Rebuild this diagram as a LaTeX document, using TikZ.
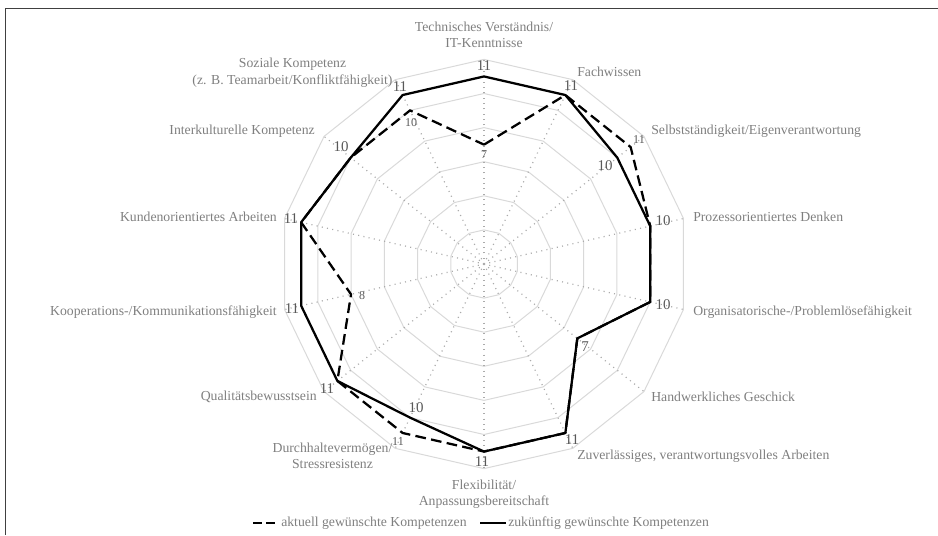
\documentclass[tikz,border=0pt]{standalone}
\usepackage{fontspec}
\setmainfont{Liberation Serif}
\definecolor{cattext}{HTML}{7F7F7F}
\definecolor{valtext}{HTML}{595959}
\definecolor{gridcol}{HTML}{D9D9D9}
\definecolor{spokecol}{HTML}{ABABAB}
\definecolor{framecol}{HTML}{404040}
\def\runit{17.05}
\tikzset{
  cat/.style={text=cattext, inner sep=0pt, font=\fontsize{10.3}{12.4}\selectfont},
  valbig/.style={text=valtext, inner sep=0pt, font=\fontsize{11.2}{12}\selectfont},
  valsmall/.style={text=valtext, inner sep=0pt, font=\fontsize{9}{10}\selectfont},
  gridline/.style={draw=gridcol, line width=0.75pt},
  spokeline/.style={draw=spokecol, line width=0.9pt, dash pattern=on 0.8pt off 3.2pt},
  nowline/.style={draw=black, line width=1.7pt, line join=round, dash pattern=on 8pt off 4pt},
  futureline/.style={draw=black, line width=1.7pt, line join=round},
}
\begin{document}
\begin{tikzpicture}[x=0.75pt,y=0.75pt]
\useasboundingbox (0,-535) rectangle (938,0);
% frame
\coordinate (fbl) at (5.3,-535);
\coordinate (ftl) at (5.3,-8.3);
\coordinate (ftr) at (938,-8.3);
\draw[framecol, line width=1.1pt] (fbl) -- (ftl) -- (ftr);

\begin{scope}[shift={(484,-264)}]
  \coordinate (ctr) at (0,0);
  % grid rings
  \foreach \r in {2,4,...,12}{
    \draw[gridline] (90:\r*\runit) \foreach \k in {1,...,13}{ -- ({90-\k*360/14}:\r*\runit)} -- cycle;
  }
  % spokes
  \foreach \k in {0,...,13}{
    \coordinate (sp\k) at ({90-\k*360/14}:12*\runit);
    \draw[spokeline] (ctr) -- (sp\k);
  }
  % data points
  \foreach \v [count=\k from 0] in {7,11,11,10,10,7,11,11,11,11,8,11,10,10}{
    \coordinate (a\k) at ({90-\k*360/14}:\v*\runit);
  }
  \foreach \v [count=\k from 0] in {11,11,10,10,10,7,11,11,10,11,11,11,10,11}{
    \coordinate (z\k) at ({90-\k*360/14}:\v*\runit);
  }
  \draw[nowline] (a0) \foreach \k in {1,...,13}{ -- (a\k)} -- cycle;
  \draw[futureline] (z0) \foreach \k in {1,...,13}{ -- (z\k)} -- cycle;
\end{scope}

% category labels
\node[cat, align=center] (c0) at (484,-35) {Technisches Verständnis/\\IT-Kenntnisse};
\node[cat, anchor=west] (c1) at (577,-72) {Fachwissen};
\node[cat, anchor=west] (c2) at (651,-131) {Selbstständigkeit/Eigenverantwortung};
\node[cat, anchor=west] (c3) at (693,-217) {Prozessorientiertes Denken};
\node[cat, anchor=west] (c4) at (693,-312) {Organisatorische-/Problemlösefähigkeit};
\node[cat, anchor=west] (c5) at (651,-397) {Handwerkliches Geschick};
\node[cat, anchor=west] (c6) at (577,-456) {Zuverlässiges, verantwortungsvolles Arbeiten};
\node[cat, align=center] (c7) at (484,-494) {Flexibilität/\\Anpassungsbereitschaft};
\node[cat, align=center] (c8) at (332.5,-456) {Durchhaltevermögen/\\Stressresistenz};
\node[cat, anchor=east] (c9) at (317,-397) {Qualitätsbewusstsein};
\node[cat, anchor=east] (c10) at (277,-312) {Kooperations-/Kommunikationsfähigkeit};
\node[cat, anchor=east] (c11) at (277,-217) {Kundenorientiertes Arbeiten};
\node[cat, anchor=east] (c12) at (315,-131) {Interkulturelle Kompetenz};
\node[cat, align=center] (c13) at (292.5,-72.5) {Soziale Kompetenz\\(z. B. Teamarbeit/Konfliktfähigkeit)};

% value labels (zukünftig)
\node[valbig] (v0) at (484,-66) {11};
\node[valbig] (v1) at (571,-86) {11};
\node[valbig] (v2) at (605,-166) {10};
\node[valbig] (v3) at (663,-221) {10};
\node[valbig] (v4) at (663,-305) {10};
\node[valbig] (v5) at (585,-347) {7};
\node[valbig] (v6) at (572,-440) {11};
\node[valbig] (v7) at (482,-462) {11};
\node[valbig] (v8) at (416,-408) {10};
\node[valbig] (v9) at (327,-389) {11};
\node[valbig] (v10) at (292,-309) {11};
\node[valbig] (v11) at (291,-219) {11};
\node[valbig] (v12) at (341,-147) {10};
\node[valbig] (v13) at (400,-87) {11};
% value labels (aktuell)
\node[valsmall] (w0) at (484,-155) {7};
\node[valsmall] (w2) at (639,-140) {11};
\node[valsmall] (w8) at (398,-442) {11};
\node[valsmall] (w10) at (362,-296) {8};
\node[valsmall] (w13) at (411,-123) {10};

% legend
\coordinate (la1) at (253,-523);
\coordinate (la2) at (279,-523);
\coordinate (lb1) at (480,-523);
\coordinate (lb2) at (506,-523);
\draw[draw=black, line width=1.7pt, dash pattern=on 6.8pt off 3pt] (la1) -- (la2);
\node[cat, anchor=west] (lt1) at (281,-523) {aktuell gewünschte Kompetenzen};
\draw[futureline] (lb1) -- (lb2);
\node[cat, anchor=west] (lt2) at (508,-523) {zukünftig gewünschte Kompetenzen};
\end{tikzpicture}
\end{document}
